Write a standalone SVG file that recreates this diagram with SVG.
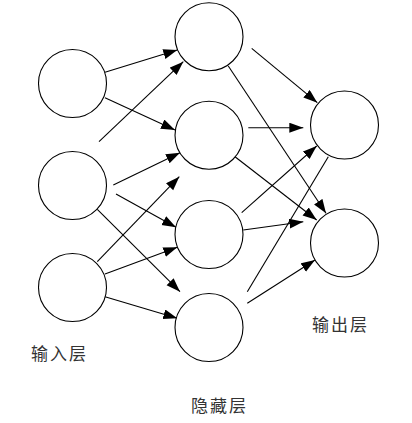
<svg xmlns="http://www.w3.org/2000/svg" width="412" height="423" viewBox="0 0 412 423">
<style>
.node{fill:#fff;stroke:#000;stroke-width:1.1}
.edge{stroke:#000;stroke-width:1.1;fill:none}
.arr{marker-end:url(#ah)}
.lbl{font-family:"Noto Sans CJK SC","Noto Sans CJK JP",sans-serif;font-size:17px;fill:#333;letter-spacing:2px}
</style>
<defs>
<marker id="ah" markerUnits="userSpaceOnUse" markerWidth="15" markerHeight="11" refX="14" refY="5" orient="auto">
<path d="M0,0 L14,5 L0,10 z" fill="#000"/>
</marker>
</defs>
<rect width="412" height="423" fill="#fff"/>
<g id="connectors">
<line class="edge arr" x1="105" y1="72.3" x2="177.3" y2="50"/>
<line class="edge arr" x1="99" y1="141.7" x2="183.3" y2="61.7"/>
<line class="edge arr" x1="105" y1="97.7" x2="175" y2="130"/>
<line class="edge arr" x1="113.3" y1="185" x2="180" y2="152.7"/>
<line class="edge arr" x1="97.3" y1="261.7" x2="179.3" y2="176.7"/>
<line class="edge arr" x1="116" y1="194" x2="176" y2="227.3"/>
<line class="edge arr" x1="97.3" y1="209.3" x2="180" y2="291.7"/>
<line class="edge arr" x1="105" y1="274" x2="177.3" y2="247.3"/>
<line class="edge arr" x1="105" y1="296.7" x2="177.3" y2="318.3"/>
<line class="edge arr" x1="251.7" y1="48.3" x2="317.3" y2="102.7"/>
<line class="edge arr" x1="228.3" y1="66" x2="326" y2="213.3"/>
<line class="edge arr" x1="248.3" y1="127.7" x2="303.3" y2="127.7"/>
<line class="edge arr" x1="235" y1="156.7" x2="316.7" y2="220"/>
<line class="edge arr" x1="241.7" y1="212.7" x2="316.7" y2="146"/>
<line class="edge arr" x1="243.3" y1="230" x2="303.3" y2="221.7"/>
<line class="edge" x1="247.3" y1="291.7" x2="328.3" y2="156.7"/>
<line class="edge arr" x1="247.3" y1="303.3" x2="315" y2="260"/>
</g>
<g id="input1"><circle class="node" cx="72.5" cy="83.5" r="34"/></g>
<g id="input2"><circle class="node" cx="72.5" cy="185.5" r="34"/></g>
<g id="input3"><circle class="node" cx="72.5" cy="287.5" r="34"/></g>
<g id="hidden1"><circle class="node" cx="209" cy="36.7" r="34"/></g>
<g id="hidden2"><circle class="node" cx="209" cy="135.2" r="34"/></g>
<g id="hidden3"><circle class="node" cx="209" cy="234.5" r="34"/></g>
<g id="hidden4"><circle class="node" cx="209" cy="327.5" r="34"/></g>
<g id="output1"><circle class="node" cx="344.5" cy="125" r="34"/></g>
<g id="output2"><circle class="node" cx="344.5" cy="243" r="34"/></g>
<g id="label-input"><text class="lbl" x="31" y="360">输入层</text></g>
<g id="label-output"><text class="lbl" x="312" y="331">输出层</text></g>
<g id="label-hidden"><text class="lbl" x="191" y="412">隐藏层</text></g>
</svg>
